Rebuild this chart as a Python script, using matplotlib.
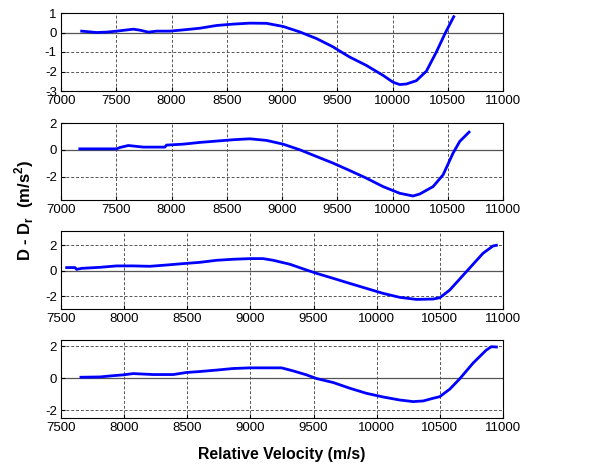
import matplotlib
matplotlib.use("Agg")
import matplotlib.pyplot as plt

# Panel 1
v1 = [7187, 7322, 7413, 7503, 7654, 7714, 7790, 7865, 7986, 8136, 8257, 8408, 8558, 8709,
      8860, 9010, 9161, 9312, 9463, 9502, 9613, 9764, 9915, 10005, 10066, 10126, 10216,
      10307, 10397, 10480, 10554]
d1 = [0.07, 0.0, 0.02, 0.07, 0.17, 0.12, 0.02, 0.07, 0.07, 0.15, 0.22, 0.36, 0.43, 0.48,
      0.47, 0.31, 0.03, -0.31, -0.74, -0.88, -1.26, -1.69, -2.2, -2.55, -2.67, -2.64, -2.47,
      -1.98, -1.0, 0.0, 0.81]
# Panel 2
v2 = [7170, 7503, 7533, 7609, 7745, 7940, 7955, 8106, 8257, 8408, 8558, 8709, 8860, 9010,
      9161, 9312, 9463, 9613, 9764, 9915, 10066, 10186, 10247, 10367, 10458, 10548, 10608, 10693]
d2 = [0.07, 0.07, 0.17, 0.32, 0.2, 0.2, 0.35, 0.42, 0.55, 0.65, 0.75, 0.82, 0.7, 0.42,
      0.0, -0.5, -1.0, -1.55, -2.12, -2.75, -3.25, -3.45, -3.3, -2.75, -1.87, -0.25, 0.62, 1.32]
# Panel 3
v3 = [7545, 7611, 7624, 7664, 7809, 7940, 8072, 8204, 8336, 8468, 8600, 8732, 8864, 8996,
      9101, 9180, 9312, 9444, 9523, 9655, 9787, 9919, 10051, 10183, 10315, 10447, 10499,
      10578, 10710, 10842, 10921, 10948]
d3 = [0.24, 0.24, 0.1, 0.18, 0.26, 0.37, 0.37, 0.34, 0.44, 0.55, 0.65, 0.81, 0.89, 0.94,
      0.94, 0.81, 0.5, 0.05, -0.21, -0.6, -1.0, -1.39, -1.78, -2.09, -2.25, -2.22, -2.12,
      -1.52, -0.08, 1.36, 1.93, 1.98]
# Panel 4
v4 = [7658, 7809, 7901, 7993, 8072, 8230, 8389, 8494, 8600, 8732, 8864, 8996, 9127, 9246,
      9338, 9444, 9523, 9655, 9787, 9919, 10051, 10183, 10289, 10368, 10447, 10499, 10578,
      10657, 10763, 10868, 10908, 10948]
d4 = [0.06, 0.08, 0.15, 0.21, 0.29, 0.23, 0.23, 0.36, 0.42, 0.51, 0.61, 0.65, 0.65, 0.65,
      0.46, 0.21, -0.02, -0.27, -0.63, -0.95, -1.18, -1.37, -1.47, -1.43, -1.26, -1.16, -0.69,
      -0.04, 0.95, 1.77, 1.98, 1.96]

xlims = [(7000, 11000), (7000, 11000), (7500, 11000), (7500, 11000)]
xticks = [list(range(7000, 11001, 500)), list(range(7000, 11001, 500)),
          list(range(7500, 11001, 500)), list(range(7500, 11001, 500))]
ylims = [(-3, 1), (-3.75, 2), (-3, 3.1), (-2.5, 2.4)]
yticks = [[-3, -2, -1, 0, 1], [-2, 0, 2], [-2, 0, 2], [-2, 0, 2]]

plt.rcParams['font.family'] = ['Liberation Sans', 'DejaVu Sans']
plt.rcParams['axes.unicode_minus'] = False
plt.rcParams['mathtext.fontset'] = 'custom'
plt.rcParams['mathtext.rm'] = 'Liberation Sans'
plt.rcParams['mathtext.bf'] = 'Liberation Sans:bold'
fig = plt.figure(figsize=(6.08, 4.66), dpi=100)

W, H = 608, 466
boxes = [(13, 91), (123, 200), (231, 309), (340, 418)]
left, right = 61, 503
series = [(v1, d1), (v2, d2), (v3, d3), (v4, d4)]
for i, ((top, bot), (v, d)) in enumerate(zip(boxes, series)):
    ax = fig.add_axes([left / W, 1 - bot / H, (right - left) / W, (bot - top) / H])
    ax.set_xlim(*xlims[i])
    ax.set_ylim(*ylims[i])
    ax.set_xticks(xticks[i])
    ax.set_yticks(yticks[i])
    ax.grid(True, linestyle=(0, (3, 2)), color='#555555', linewidth=0.7)
    ax.axhline(0, color='#555555', linewidth=0.9, zorder=1.5)
    ax.plot(v, d, color='#0000ff', linewidth=2.0, zorder=3)
    ax.tick_params(direction='in', length=3, labelsize=9.5, pad=3)
    for s in ax.spines.values():
        s.set_linewidth(0.8)

fig.text(0.04, 1 - 210 / H, r'D - D$_\mathbf{r}$  (m/s$^\mathbf{2}$)', rotation=90, ha='center',
         va='center', fontsize=12, fontweight='bold')
fig.text(282 / W, 1 - 455 / H, 'Relative Velocity (m/s)', ha='center', va='center',
         fontsize=11.4, fontweight='bold')

fig.savefig('out.png', dpi=100)
